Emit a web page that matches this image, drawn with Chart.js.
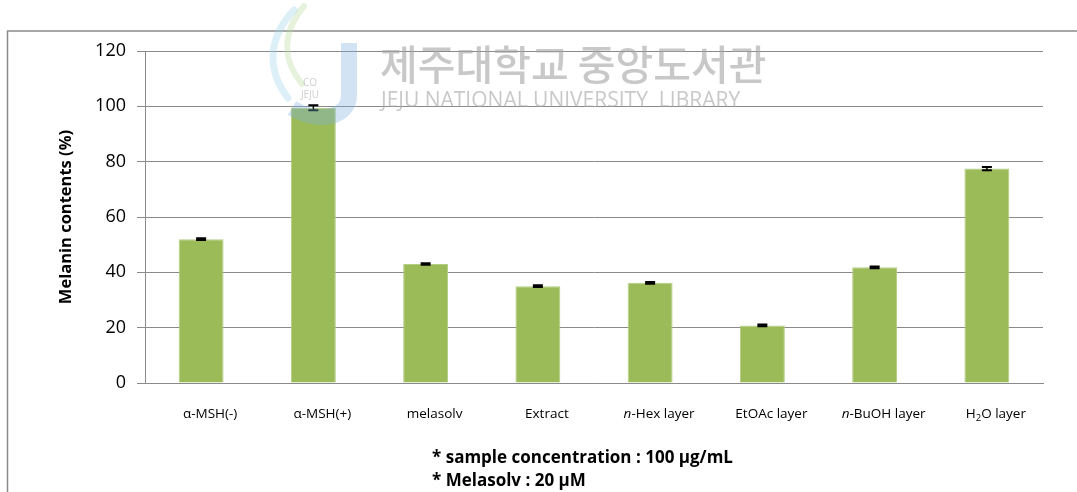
<!DOCTYPE html>
<html>
<head>
<meta charset="utf-8">
<script src="https://cdn.jsdelivr.net/npm/chart.js@4.4.1/dist/chart.umd.min.js"></script>
<style>
  html, body { margin: 0; padding: 0; background: #fff; }
  #wrap { width: 1077px; height: 492px; position: relative; }
</style>
</head>
<body>
<div id="wrap"><canvas id="c" width="1077" height="492"></canvas></div>
<script>
// Melanin content per treatment group (%), with standard deviations
const categories = ['α-MSH(-)', 'α-MSH(+)', 'melasolv', 'Extract', 'n-Hex layer', 'EtOAc layer', 'n-BuOH layer', 'H2O layer'];
const melanin = [52.0, 99.5, 43.0, 35.0, 36.2, 20.8, 41.8, 77.5];
const errors = [0.3, 0.9, 0.3, 0.3, 0.3, 0.3, 0.3, 0.6];
const yTicks = [0, 20, 40, 60, 80, 100, 120];
const notes = ['* sample concentration : 100 μg/mL', '* Melasolv : 20 μM'];

// label pieces: [text, style] where style is 'n' normal, 'i' italic, 's' subscript
const labelParts = [
  [['α-MSH(-)', 'n']],
  [['α-MSH(+)', 'n']],
  [['melasolv', 'n']],
  [['Extract', 'n']],
  [['n', 'i'], ['-Hex layer', 'n']],
  [['EtOAc layer', 'n']],
  [['n', 'i'], ['-BuOH layer', 'n']],
  [['H', 'n'], ['2', 's'], ['O layer', 'n']]
];

const FONT = '"Open Sans", "Noto Sans", sans-serif';

// outer frame + library watermark
const framePlugin = {
  id: 'frame',
  beforeDraw(chart) {
    const ctx = chart.ctx;
    ctx.save();
    ctx.fillStyle = '#fff';
    ctx.fillRect(0, 0, chart.width, chart.height);
    ctx.strokeStyle = '#8a8a8a';
    ctx.lineWidth = 1.5;
    ctx.beginPath();
    ctx.moveTo(7.5, chart.height + 2);
    ctx.lineTo(7.5, 31);
    ctx.lineTo(chart.width + 2, 31);
    ctx.stroke();
    ctx.restore();
  },
  afterDraw(chart) {
    const ctx = chart.ctx;
    ctx.save();
    ctx.globalAlpha = 0.35;
    // logo swooshes
    ctx.lineCap = 'round';
    ctx.strokeStyle = '#9fd3ea';
    ctx.lineWidth = 7;
    ctx.beginPath();
    ctx.moveTo(294, 10);
    ctx.bezierCurveTo(266, 40, 268, 72, 288, 98);
    ctx.stroke();
    ctx.strokeStyle = '#b8d99a';
    ctx.lineWidth = 6;
    ctx.beginPath();
    ctx.moveTo(304, 6);
    ctx.bezierCurveTo(280, 35, 284, 62, 302, 84);
    ctx.stroke();
    ctx.strokeStyle = '#7fb0dc';
    ctx.lineWidth = 16;
    ctx.lineCap = 'butt';
    ctx.beginPath();
    ctx.moveTo(349, 43);
    ctx.lineTo(349, 95);
    ctx.bezierCurveTo(349, 118, 318, 124, 292, 108);
    ctx.stroke();
    ctx.globalAlpha = 0.5;
    ctx.fillStyle = '#a0a0a0';
    ctx.font = '10px ' + FONT;
    ctx.textAlign = 'center';
    ctx.fillText('CO', 310, 86);
    ctx.fillText('JEJU', 310, 98);
    // watermark text
    ctx.globalAlpha = 0.6;
    ctx.fillStyle = '#a4a4a4';
    ctx.textAlign = 'left';
    ctx.textBaseline = 'alphabetic';
    ctx.font = '500 41px "Noto Sans CJK KR", sans-serif';
    ctx.fillText('제주대학교 중앙도서관', 380, 80);
    ctx.font = '21px ' + FONT;
    ctx.fillText('JEJU NATIONAL UNIVERSITY  LIBRARY', 381, 107);
    ctx.restore();
  }
};

// error bar caps, x labels, axis title and footnotes
const annotPlugin = {
  id: 'annot',
  afterDatasetsDraw(chart) {
    const ctx = chart.ctx;
    const xs = chart.scales.x, ys = chart.scales.y;
    ctx.save();
    ctx.strokeStyle = '#000';
    melanin.forEach((v, i) => {
      const x = xs.getPixelForValue(i);
      const yHi = ys.getPixelForValue(v + errors[i]);
      const yLo = ys.getPixelForValue(v - errors[i]);
      ctx.lineWidth = 1.5;
      ctx.beginPath();
      ctx.moveTo(x, yHi); ctx.lineTo(x, yLo);
      ctx.stroke();
      ctx.lineWidth = 2;
      ctx.beginPath();
      ctx.moveTo(x - 5, yHi); ctx.lineTo(x + 5, yHi);
      ctx.moveTo(x - 5, yLo); ctx.lineTo(x + 5, yLo);
      ctx.stroke();
    });

    // category labels
    ctx.fillStyle = '#000';
    ctx.textBaseline = 'middle';
    labelParts.forEach((parts, i) => {
      const cx = xs.getPixelForValue(i) + 9;
      const fontOf = s => s === 'i' ? 'italic 13.5px ' + FONT : s === 's' ? '9.5px ' + FONT : '13.5px ' + FONT;
      let w = 0;
      parts.forEach(([t, s]) => { ctx.font = fontOf(s); w += ctx.measureText(t).width; });
      let x = cx - w / 2;
      const y = 414;
      parts.forEach(([t, s]) => {
        ctx.font = fontOf(s);
        ctx.textAlign = 'left';
        ctx.fillText(t, x, s === 's' ? y + 4 : y);
        x += ctx.measureText(t).width;
      });
    });

    // y axis title
    ctx.save();
    ctx.translate(66, (ys.top + ys.bottom) / 2);
    ctx.rotate(-Math.PI / 2);
    ctx.font = 'bold 16.5px ' + FONT;
    ctx.textAlign = 'center';
    ctx.fillText('Melanin contents (%)', 0, 0);
    ctx.restore();

    // footnotes
    ctx.font = 'bold 17px ' + FONT;
    ctx.textAlign = 'left';
    ctx.fillText(notes[0], 432, 458);
    ctx.fillText(notes[1], 432, 481);
    ctx.restore();
  }
};

new Chart(document.getElementById('c'), {
  type: 'bar',
  data: {
    labels: categories,
    datasets: [{
      data: melanin,
      backgroundColor: '#9bbb59',
      borderColor: '#b3cd82',
      borderWidth: 1,
      barPercentage: 0.4,
      categoryPercentage: 1.0
    }]
  },
  options: {
    responsive: false,
    animation: false,
    devicePixelRatio: 1,
    layout: { padding: { left: 0, top: 51, right: 34, bottom: 109 } },
    plugins: { legend: { display: false }, tooltip: { enabled: false } },
    scales: {
      x: {
        grid: { display: false, drawTicks: false },
        border: { display: true, color: '#8a8a8a', width: 1 },
        ticks: { display: false },
        afterFit(s) { s.height = 0; }
      },
      y: {
        min: 0,
        max: 120,
        afterBuildTicks(s) { s.ticks = yTicks.map(v => ({ value: v })); },
        afterFit(s) { s.width = 145; },
        grid: { color: '#8a8a8a', lineWidth: 1, tickLength: 8, drawTicks: true },
        border: { display: true, color: '#8a8a8a', width: 1 },
        ticks: { color: '#000', font: { family: FONT, size: 18 }, padding: 11 }
      }
    }
  },
  plugins: [framePlugin, annotPlugin]
});
</script>
</body>
</html>
